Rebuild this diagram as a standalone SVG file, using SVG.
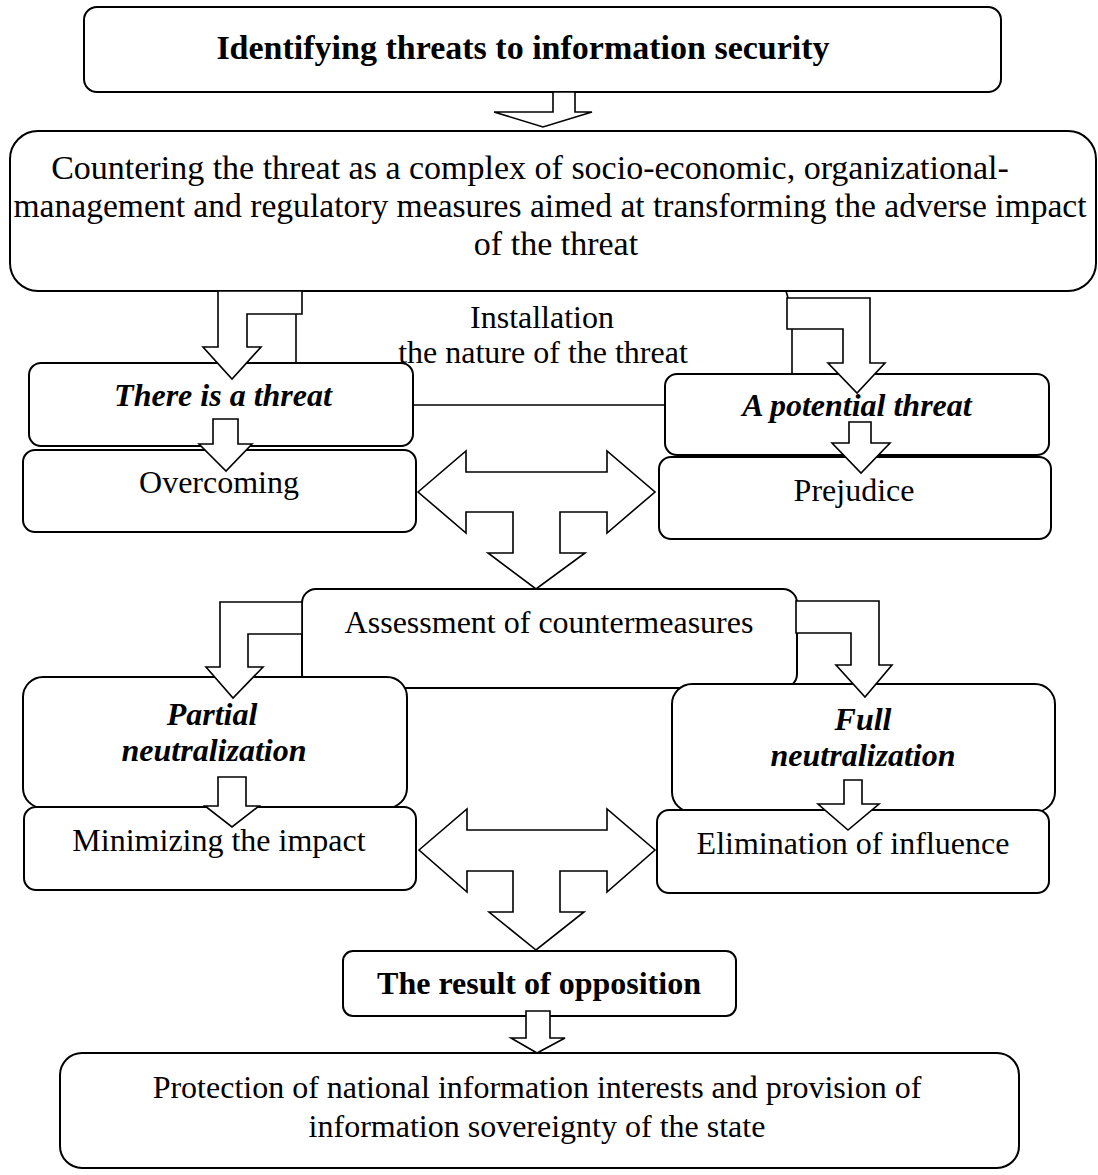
<svg xmlns="http://www.w3.org/2000/svg" width="1098" height="1175" viewBox="0 0 1098 1175">
<style>
.box{fill:#fff;stroke:#000;stroke-width:2}
.arr{fill:#fff;stroke:#000;stroke-width:1.6;stroke-linejoin:miter}
.ln{fill:none;stroke:#000;stroke-width:1.6}
text{font-family:"Liberation Serif","Times New Roman",serif;font-size:32px;fill:#000;text-anchor:middle}
.big{font-size:34px}
.mid{font-size:33.6px}
.b{font-weight:bold}
.bi{font-weight:bold;font-style:italic}
</style>
<rect width="1098" height="1175" fill="#fff"/>
<g id="title">
<rect class="box" x="84" y="7" width="917" height="85" rx="13"/>
<text class="b big" x="523" y="59">Identifying threats to information security</text>
</g>
<g id="countering">
<rect class="box" x="10" y="131" width="1086" height="160" rx="28"/>
<text class="big" x="530" y="179">Countering the threat as a complex of socio-economic, organizational-</text>
<text class="mid" x="550" y="217">management and regulatory measures aimed at transforming the adverse impact</text>
<text class="big" x="556" y="255">of the threat</text>
</g>
<g id="there-is-threat">
<rect class="box" x="29" y="363" width="384" height="83" rx="12"/>
<text class="bi" x="223" y="406">There is a threat</text>
</g>
<g id="potential-threat">
<rect class="box" x="665" y="374" width="384" height="81" rx="12"/>
<text class="bi" x="857" y="416">A potential threat</text>
</g>
<g id="overcoming">
<rect class="box" x="23" y="450" width="393" height="82" rx="12"/>
<text x="219" y="493">Overcoming</text>
</g>
<g id="prejudice">
<rect class="box" x="659" y="457" width="392" height="82" rx="12"/>
<text x="854" y="501">Prejudice</text>
</g>
<g id="assessment">
<rect class="box" x="302" y="589" width="495" height="99" rx="14"/>
<text x="549" y="633">Assessment of countermeasures</text>
</g>
<g id="partial">
<rect class="box" x="23" y="677" width="384" height="131" rx="20"/>
<text class="bi" x="212" y="725">Partial</text>
<text class="bi" x="214" y="761">neutralization</text>
</g>
<g id="minimizing">
<rect class="box" x="24" y="807" width="392" height="83" rx="12"/>
<text x="219" y="851">Minimizing the impact</text>
</g>
<g id="full">
<rect class="box" x="672" y="684" width="383" height="128" rx="20"/>
<text class="bi" x="863" y="730">Full</text>
<text class="bi" x="863" y="766">neutralization</text>
</g>
<g id="elimination">
<rect class="box" x="657" y="810" width="392" height="83" rx="12"/>
<text x="853" y="854">Elimination of influence</text>
</g>
<g id="result">
<rect class="box" x="343" y="951" width="393" height="65" rx="10"/>
<text class="b" x="539" y="994">The result of opposition</text>
</g>
<g id="protection">
<rect class="box" x="60" y="1053" width="959" height="115" rx="22"/>
<text x="537" y="1098">Protection of national information interests and provision of</text>
<text x="537" y="1137">information sovereignty of the state</text>
</g>
<g id="installation-label">
<text x="542" y="328">Installation</text>
<text x="543" y="363">the nature of the threat</text>
</g>
<g id="connectors">
<path class="arr" d="M553,92 H575 V112 H592 L543,127 L494,112 H553 Z"/>
<path class="arr" d="M218,291 V347 H203 L232,379 L261,347 H247 V314 H302 V291 Z"/>
<path class="ln" d="M296,314 V363"/>
<path class="arr" d="M787,298 H870 V363 H885 L857,393 L828,363 H843 V329 H787 Z"/>
<path class="ln" d="M786,291 L788,298"/>
<path class="ln" d="M792,329 V374"/>
<path class="ln" d="M413,405 H665"/>
<path class="arr" d="M213,419 H238 V444 H252 L226,471 L199,444 H213 Z"/>
<path class="arr" d="M849,422 H871 V443 H890 L861,473 L832,443 H849 Z"/>
<path class="arr" d="M418,492 L466,451 V472 H607 V451 L655,492 L607,533 V512 H560 V553 H585 L536,589 L488,553 H513 V512 H466 V533 Z"/>
<path class="arr" d="M302,602 H220 V667 H206 L233,698 L263,667 H248 V634 H302 Z"/>
<path class="arr" d="M796,601 H879 V665 H892 L865,697 L836,665 H851 V633 H796 Z"/>
<path class="arr" d="M218,777 H246 V806 H259 L232,827 L205,806 H218 Z"/>
<path class="arr" d="M844,780 H862 V804 H879 L848,830 L818,804 H844 Z"/>
<path class="arr" d="M419,850 L467,809 V830 H607 V809 L655,850 L607,892 V871 H560 V912 H584 L536,950 L489,912 H513 V871 H467 V892 Z"/>
<path class="arr" d="M526,1011 H550 V1038 H565 L537,1053 L511,1038 H526 Z"/>
</g>
</svg>
